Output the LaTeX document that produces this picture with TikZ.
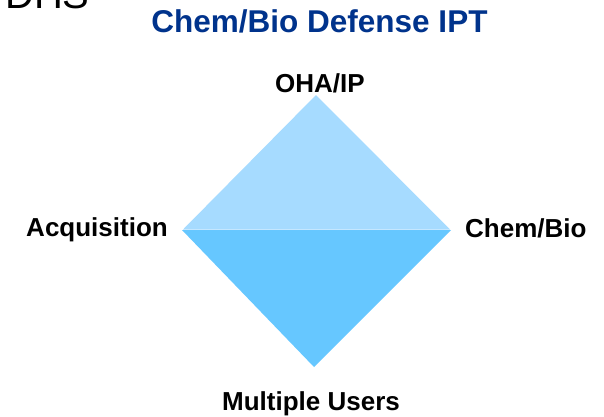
\documentclass[tikz,border=0pt]{standalone}
\usepackage{fontspec}
\setmainfont{Liberation Sans}
\definecolor{titleblue}{RGB}{0,51,140}
\definecolor{upperblue}{RGB}{166,219,255}
\definecolor{lowerblue}{RGB}{102,199,255}
\begin{document}
\begin{tikzpicture}[x=1pt,y=-1pt,
  lab/.style={font=\fontsize{26}{30}\selectfont\bfseries, inner sep=0pt, text=black},
  ttl/.style={font=\fontsize{31.5}{36}\selectfont\bfseries, inner sep=0pt, text=titleblue},
  corner/.style={font=\fontsize{40}{46}\selectfont, inner sep=0pt, text=black}]
\useasboundingbox (0,0) rectangle (604,416);
\fill[white] (0,0) rectangle (604,416);
\fill[upperblue] (316,95) -- (183,229.5) -- (450,229.5) -- cycle;
\fill[lowerblue] (182,230) -- (451,230) -- (314,367) -- cycle;
\node[corner, anchor=base west] (dhs) at (5,8) {DHS};
\node[ttl, anchor=base] (title) at (319.5,32) {Chem/Bio Defense IPT};
\node[lab, anchor=base] (oha) at (320,92) {OHA/IP};
\node[lab, anchor=base east] (acq) at (168,236) {Acquisition};
\node[lab, anchor=base west] (cb) at (465,237) {Chem/Bio};
\node[lab, anchor=base] (mu) at (311,410) {Multiple Users};
\end{tikzpicture}
\end{document}
